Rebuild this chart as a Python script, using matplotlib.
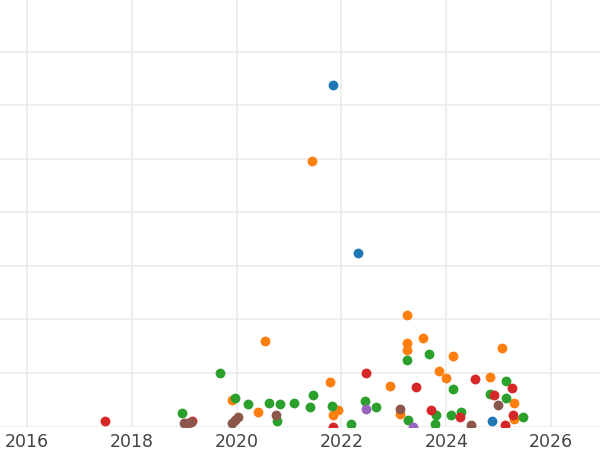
import matplotlib
matplotlib.use("Agg")
import matplotlib.pyplot as plt

# series values: (year, value)
blue_x = [2021.84, 2022.32, 2024.87]
blue_y = [63.8, 32.4, 1.0]

orange_x = [2021.44, 2020.54, 2023.25, 2023.25, 2023.25, 2023.56, 2024.13, 2025.06,
            2021.78, 2022.93, 2023.86, 2024.0, 2024.84, 2019.91, 2020.41, 2021.94,
            2021.84, 2023.12, 2025.29, 2025.29]
orange_y = [49.6, 16.0, 20.8, 15.6, 14.3, 16.5, 13.2, 14.7,
            8.3, 7.6, 10.4, 9.1, 9.3, 5.0, 2.7, 3.1,
            2.1, 2.3, 4.4, 1.4]

green_x = [2019.68, 2018.96, 2019.97, 2020.22, 2020.62, 2020.83, 2021.10, 2021.46,
           2021.40, 2021.82, 2020.77, 2022.18, 2022.45, 2022.66, 2023.25, 2023.67,
           2024.13, 2023.81, 2024.09, 2024.28, 2023.27, 2023.79, 2024.84, 2025.14,
           2025.14, 2025.47]
green_y = [10.0, 2.5, 5.3, 4.2, 4.4, 4.2, 4.4, 5.9,
           3.6, 3.8, 1.0, 0.5, 4.8, 3.6, 12.4, 13.6,
           7.0, 2.1, 2.1, 2.7, 1.2, 0.5, 6.1, 8.5,
           5.3, 1.8]

red_x = [2017.49, 2019.15, 2022.47, 2023.42, 2024.55, 2025.26, 2023.71, 2024.26,
         2024.91, 2025.27, 2021.84, 2025.12]
red_y = [1.0, 1.0, 10.0, 7.4, 8.9, 7.2, 3.1, 1.8,
         5.9, 2.1, 0.0, 0.3]

purple_x = [2022.47, 2023.37]
purple_y = [3.3, 0.0]

brown_x = [2019.0, 2019.07, 2019.13, 2019.91, 2019.97, 2020.03, 2020.75, 2023.12,
           2024.47, 2024.99]
brown_y = [0.7, 0.7, 0.8, 0.7, 1.2, 1.8, 2.1, 3.3,
           0.3, 4.0]

series = [
    (blue_x, blue_y, "#1f77b4"),
    (orange_x, orange_y, "#ff7f0e"),
    (green_x, green_y, "#2ca02c"),
    (red_x, red_y, "#d62728"),
    (purple_x, purple_y, "#9467bd"),
    (brown_x, brown_y, "#8c564b"),
]
x_ticks = [2016, 2018, 2020, 2022, 2024, 2026]

fig = plt.figure(figsize=(6, 4.5), dpi=100)
ax = fig.add_axes([0, 0.0522, 1, 0.9478])

for xs, ys, color in series:
    ax.scatter(xs, ys, s=50, color=color, linewidths=0, zorder=3)

ax.set_xlim(2015.485, 2026.935)
ax.set_ylim(0, 79.7)
ax.set_xticks(x_ticks)
ax.set_xticklabels([str(t) for t in x_ticks])
ax.set_yticks(range(0, 80, 10))
ax.tick_params(axis="x", length=0, pad=4.5, labelsize=12.5, labelcolor="#444444")
ax.tick_params(axis="y", length=0, labelleft=False)
ax.grid(True, color="#ebebeb", linewidth=1.2, zorder=0)
ax.set_axisbelow(True)
for sp in ax.spines.values():
    sp.set_visible(False)

fig.savefig("out.png", dpi=100)
